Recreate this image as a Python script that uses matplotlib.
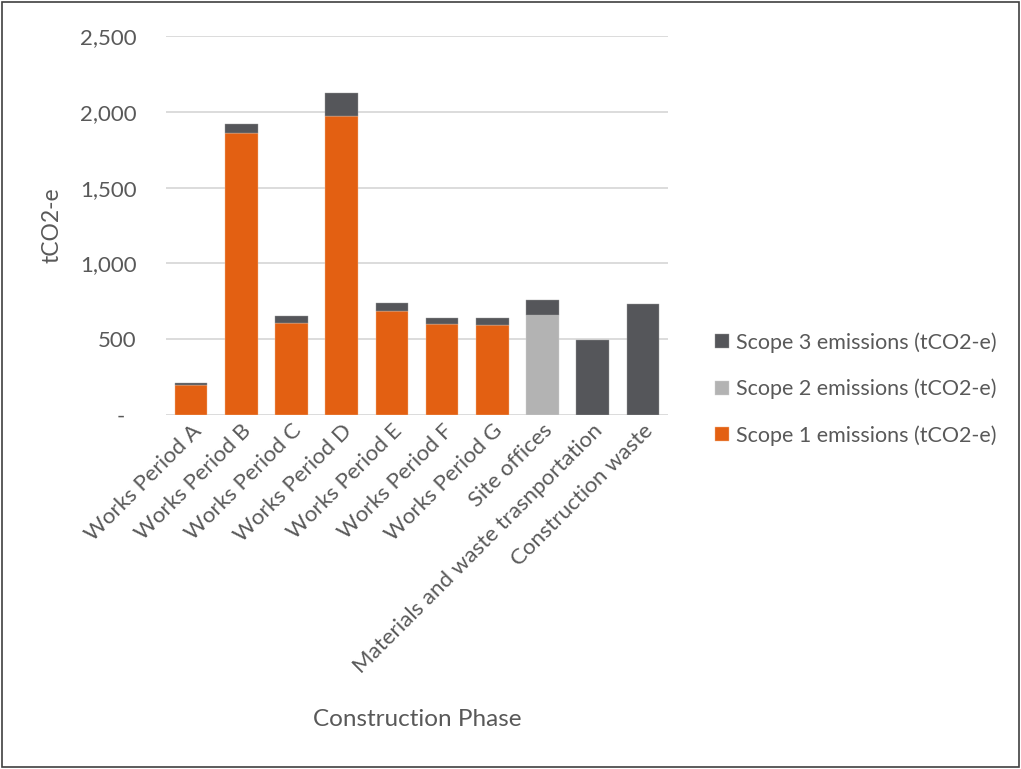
import matplotlib
matplotlib.use("Agg")
import matplotlib.pyplot as plt
from matplotlib.patches import Rectangle
from matplotlib.ticker import FuncFormatter
import numpy as np

categories = ["Works Period A", "Works Period B", "Works Period C", "Works Period D",
              "Works Period E", "Works Period F", "Works Period G", "Site offices",
              "Materials and waste trasnportation", "Construction waste"]
scope1 = [198, 1858, 607, 1974, 686, 598, 594, 0, 0, 0]
scope2 = [0, 0, 0, 0, 0, 0, 0, 662, 0, 0]
scope3 = [12, 62, 48, 148, 53, 44, 46, 97, 493, 730]

c1 = "#E36012"
c2 = "#B3B3B3"
c3 = "#55565A"
text_col = "#595959"

plt.rcParams["font.family"] = ["Lato", "DejaVu Sans"]

fig = plt.figure(figsize=(10.21, 7.69), dpi=100)
ax = fig.add_axes([0.1626, 0.4603, 0.4917, 0.4929])

x = np.arange(len(categories))
w = 0.65
s1 = np.array(scope1)
s2 = np.array(scope2)
s3 = np.array(scope3)
b1 = ax.bar(x, s1, w, color=c1, edgecolor="#F4B98F", linewidth=0.3, zorder=3,
            label="Scope 1 emissions (tCO2-e)")
b2 = ax.bar(x, s2, w, bottom=s1, color=c2, edgecolor="#D0D0D0", linewidth=0.3, zorder=3,
            label="Scope 2 emissions (tCO2-e)")
b3 = ax.bar(x, s3, w, bottom=s1 + s2, color=c3, edgecolor="#9A9A9C", linewidth=0.3, zorder=3,
            label="Scope 3 emissions (tCO2-e)")

ax.set_xlim(-0.5, len(categories) - 0.5)
ax.set_ylim(0, 2500)
ax.set_yticks(np.arange(0, 2501, 500))
ax.yaxis.set_major_formatter(FuncFormatter(lambda v, p: "-  " if v == 0 else f"{int(v):,}"))
ax.grid(axis="y", color="#D9D9D9", linewidth=1.3, zorder=0)
ax.set_axisbelow(True)
for sp in ax.spines.values():
    sp.set_visible(False)
ax.tick_params(axis="y", length=0, pad=21, labelsize=16, labelcolor=text_col)
ax.tick_params(axis="x", length=0, pad=4, labelsize=16, labelcolor=text_col)
ax.set_xticks(x)
ax.set_xticklabels(categories, rotation=45, ha="right", rotation_mode="anchor")

ax.set_ylabel("tCO2-e", fontsize=16.5, color=text_col)
ax.yaxis.set_label_coords(-0.207, 0.5)
fig.text(417 / 1021, 1 - 720 / 769, "Construction Phase", fontsize=17.5,
         color=text_col, ha="center", va="center")

leg = fig.legend(handles=[b3, b2, b1], loc="center left",
                 bbox_to_anchor=(0.681, 1 - 389 / 769), frameon=False,
                 fontsize=15.5, handlelength=0.65, handleheight=0.65,
                 handletextpad=0.35, labelspacing=1.2)
for t in leg.get_texts():
    t.set_color(text_col)

fig.patches.append(Rectangle((0.002, 0.002), 0.996, 0.996, transform=fig.transFigure,
                             fill=False, edgecolor="#404040", linewidth=1.2))

fig.savefig("out.png", dpi=100)
